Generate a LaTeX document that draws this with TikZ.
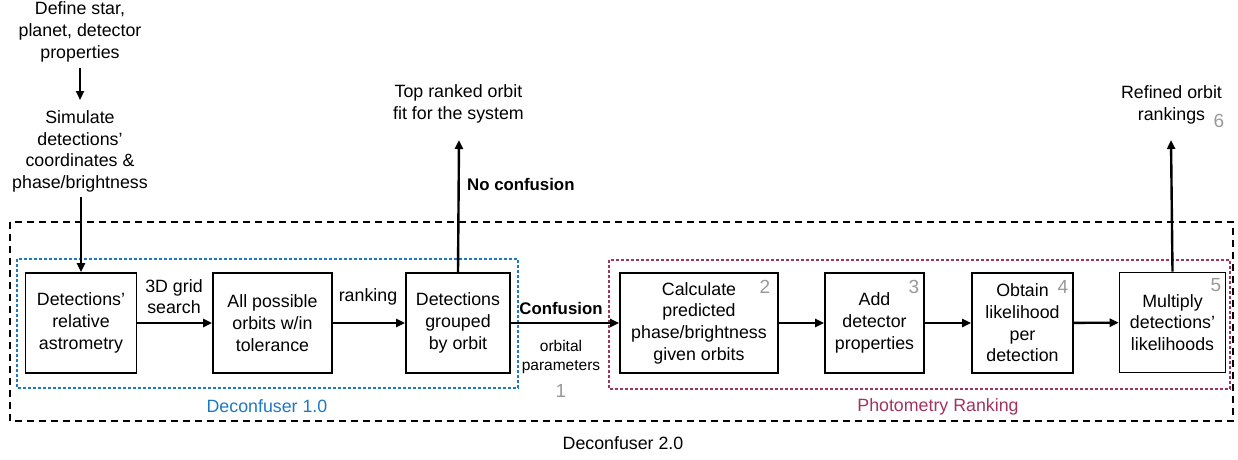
\documentclass[tikz,border=0pt]{standalone}
\usepackage{fontspec}
\setmainfont{Liberation Sans}
\usetikzlibrary{arrows.meta}
\definecolor{deconblue}{HTML}{1E78C2}
\definecolor{photored}{HTML}{A2335E}
\definecolor{stepgray}{HTML}{999999}
\tikzset{
  txt/.style={align=center, inner sep=0pt, font=\fontsize{17.8}{21.7}\selectfont},
  small/.style={align=center, inner sep=0pt, font=\fontsize{15.5}{18.5}\selectfont},
  boldlbl/.style={inner sep=0pt, font=\fontsize{16.8}{20}\selectfont\bfseries},
  stepbox/.style={draw, line width=1.6pt, fill=white, minimum height=100pt,
    align=center, inner sep=0pt, font=\fontsize{17.8}{21.7}\selectfont},
  flow/.style={line width=2.4pt, -{Triangle[length=9pt,width=8pt]}},
  stepnum/.style={inner sep=0pt, text=stepgray, font=\fontsize{19}{20}\selectfont},
  group/.style={line width=2.6pt, dash pattern=on 2.6pt off 2.4pt},
}
\begin{document}
\begin{tikzpicture}[x=1pt, y=-1pt]
\useasboundingbox (0,0) rectangle (1238,459);

% outer Deconfuser 2.0 frame
\draw[line width=1.5pt, dash pattern=on 7pt off 5pt] (10,222) rectangle (1233,421);
\node[txt] (dc2) at (623,443) {Deconfuser 2.0};

% Deconfuser 1.0 group
\draw[group, deconblue] (17,259) rectangle (518,388);
\node[txt, text=deconblue] (dc1) at (267,406) {Deconfuser 1.0};

% Photometry ranking group
\draw[group, photored] (609,260) rectangle (1230,389);
\node[txt, text=photored] (pr) at (938,407) {Photometry Ranking};

% inputs
\node[txt] (def) at (80,32) {Define star,\\planet, detector\\properties};
\node[txt] (sim) at (80,151.5) {Simulate\\detections'\\coordinates \&\\phase/brightness};

% Deconfuser 1.0 steps
\node[stepbox, minimum width=111pt] (b1) at (81,323) {Detections'\\relative\\astrometry};
\node[stepbox, minimum width=119pt] (b2) at (272.5,323) {All possible\\orbits w/in\\tolerance};
\node[stepbox, minimum width=104pt] (b3) at (458,323) {Detections\\grouped\\by orbit};

% photometry steps
\node[stepbox, minimum width=158pt] (b4) at (699,323) {Calculate\\predicted\\phase/brightness\\given orbits};
\node[stepbox, minimum width=99pt] (b5) at (874.5,323) {Add\\detector\\properties};
\node[stepbox, minimum width=101pt] (b6) at (1022.5,323) {Obtain\\likelihood\\per\\detection};
\node[stepbox, minimum width=106pt] (b7) at (1172.5,322.5) {Multiply\\detections'\\likelihoods};

% step numbers
\node[stepnum] (n1) at (561,391) {1};
\node[stepnum] (n2) at (765,287) {2};
\node[stepnum] (n3) at (914,287) {3};
\node[stepnum] (n4) at (1063,287) {4};
\node[stepnum] (n5) at (1216,285) {5};

% outputs
\node[txt] (top) at (458.5,104) {Top ranked orbit\\fit for the system};
\node[txt] (ref) at (1171.5,105) {Refined orbit\\rankings};
\node[stepnum] (n6) at (1219,121) {6};
\coordinate (topTip) at (459,140);
\coordinate (refTip) at (1171,140);
\coordinate (defEnd) at (80,68);
\coordinate (simTip) at (80,100);
\coordinate (simEnd) at (81,197);

% connector labels
\node[txt] (grid) at (174,296.5) {3D grid\\search};
\node[txt] (rank) at (368,297) {ranking};
\node[boldlbl, anchor=west] (nocf) at (467,184) {No confusion};
\node[boldlbl] (conf) at (561,308) {Confusion};
\node[small] (orb) at (561,357) {orbital\\parameters};

% connectors
\draw[flow] (defEnd) -- (simTip);
\draw[flow] (simEnd) -- (b1.north);
\draw[flow] (b1) -- (b2);
\draw[flow] (b2) -- (b3);
\draw[flow] (b3.north) -- (topTip);
\draw[flow] (b3) -- (b4);
\draw[flow] (b4) -- (b5);
\draw[flow] (b5) -- (b6);
\draw[flow] (b6) -- (b7);
\draw[flow] (b7.north) -- (refTip);
\end{tikzpicture}
\end{document}
